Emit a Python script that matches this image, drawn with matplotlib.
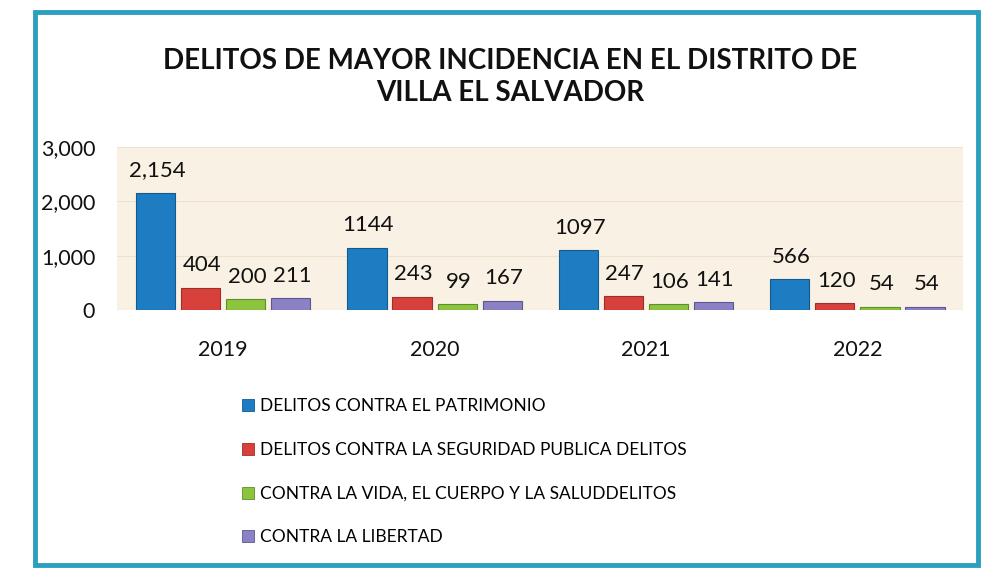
import matplotlib.pyplot as plt
import matplotlib.patches as mpatches
import numpy as np

plt.rcParams['font.family'] = ['Lato', 'DejaVu Sans']

# data
years = ['2019', '2020', '2021', '2022']
patrimonio = [2154, 1144, 1097, 566]
seguridad = [404, 243, 247, 120]
vida = [200, 99, 106, 54]
libertad = [211, 167, 141, 54]
series_names = ['DELITOS CONTRA EL PATRIMONIO',
                'DELITOS CONTRA LA SEGURIDAD PUBLICA DELITOS',
                'CONTRA LA VIDA, EL CUERPO Y LA SALUDDELITOS',
                'CONTRA LA LIBERTAD']
# labels as printed on the chart (only the first one has a comma)
value_labels = [['2,154', '1144', '1097', '566'],
                ['404', '243', '247', '120'],
                ['200', '99', '106', '54'],
                ['211', '167', '141', '54']]
colors = ['#1d7cc2', '#d8403b', '#8cc43e', '#8a82c4']
edge_colors = ['#145a8e', '#a02e2a', '#5f8f28', '#5e568f']

fig = plt.figure(figsize=(9.95, 5.77), dpi=100)

# teal frame around the whole chart
frame = mpatches.Rectangle((0.035, 0.02), 0.948, 0.96, transform=fig.transFigure,
                           fill=False, edgecolor='#2b9fbe', linewidth=3.5)
fig.patches.append(frame)

fig.text(0.513, 0.866, 'DELITOS DE MAYOR INCIDENCIA EN EL DISTRITO DE\nVILLA EL SALVADOR',
         ha='center', va='center', fontsize=20, fontweight='bold', color='#111111',
         linespacing=1.3)

ax = fig.add_axes([0.118, 0.463, 0.850, 0.282])
ax.set_facecolor('#f9f1e3')

x = np.arange(len(years))
step = 0.213
width = 0.185
all_series = [patrimonio, seguridad, vida, libertad]
for i, vals in enumerate(all_series):
    pos = x + (i - 1.5) * step
    bars = ax.bar(pos, vals, width, color=colors[i], edgecolor=edge_colors[i],
                  linewidth=0.8, zorder=3)
    for b, lab in zip(bars, value_labels[i]):
        ax.annotate(lab, (b.get_x() + b.get_width() / 2, b.get_height()),
                    xytext=(1, 9), textcoords='offset points', ha='center', va='bottom',
                    fontsize=16, color='#111111')

ax.set_xlim(-0.5, 3.5)
ax.set_ylim(0, 3000)
ax.set_yticks([0, 1000, 2000, 3000])
ax.set_yticklabels(['0', '1,000', '2,000', '3,000'], fontsize=15.5)
ax.set_xticks(x)
ax.set_xticklabels(years, fontsize=15.5)
ax.tick_params(axis='both', length=0, colors='#111111')
ax.tick_params(axis='x', pad=22)
ax.tick_params(axis='y', pad=16)
ax.grid(axis='y', color='#ece2cf', linewidth=0.8, zorder=0)
for s in ax.spines.values():
    s.set_visible(False)

handles = [mpatches.Patch(facecolor=c, edgecolor=e, linewidth=0.6)
           for c, e in zip(colors, edge_colors)]
fig.legend(handles, series_names, loc='upper left', bbox_to_anchor=(0.236, 0.322),
           frameon=False, fontsize=12.5, handlelength=0.7, handleheight=0.7,
           handletextpad=0.35, labelspacing=1.6, borderaxespad=0)

fig.savefig('out.png', dpi=100, facecolor='white')
